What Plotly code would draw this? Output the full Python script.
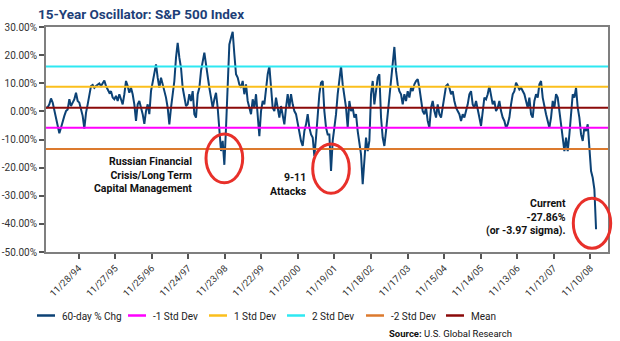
import pandas as pd
import plotly.graph_objects as go

# ---------------- data ----------------
start_date = "1994-01-07"
step_days = 16.6

osc_values = [
    1.3, 1.5, 2.5, 4.6, 3.1, 0.1, -2.2, -5.8, -7.8, -5.8,
    -3.4, -1.6, 0.1, 0.7, 4.3, 1.9, 3.1, 4.3, 6.6, 3.7,
    3.1, 0.7, -1.6, -6.1, -0.5, 2.5, 6.1, 9.0, 9.4, 8.4,
    9.0, 9.4, 9.9, 9.0, 10.2, 11.0, 9.0, 7.8, 6.6, 7.2,
    4.9, 4.3, 5.5, 3.7, 6.1, 4.3, 2.5, 6.1, 10.8, 9.0,
    6.6, 8.4, 6.1, 2.5, -3.4, 2.5, 3.7, 1.3, -1.0, -4.4,
    0.1, 2.5, -1.0, 7.2, 10.8, 13.2, 16.7, 12.0, 8.4, 12.0,
    9.6, 7.2, 4.9, 1.3, -4.6, 1.3, 6.1, 10.8, 19.1, 24.4,
    19.1, 15.5, 8.4, 4.9, 1.9,
    2.5, 6.1, 3.7, 7.2, -1.0, -2.2, 6.1, 8.4, 14.4, 17.9,
    20.9, 16.7, 12.0, 8.4, 4.9, 1.3, 4.3, 6.6, 1.3, -5.8,
    -14.1, -10.5, -19.0, -5.8, 12.0, 23.8, 26.2, 28.3, 20.3, 13.2,
    12.0, 9.6, 8.4, 10.8, 6.1, 9.6, 3.7, 1.3, -1.0, 4.3,
    1.3, 6.1, -3.4, -8.8, 0.1, 3.7, 2.5, 8.4, 13.2, 16.1,
    8.4, 1.3, 0.1, 4.9, 1.3, -2.2, 1.9, -1.0, -4.6, 1.3,
    6.1, 1.3, 6.1, 2.5, 0.1, -1.0, -4.6, -8.2, -10.5, -12.3,
    -7.0, -4.6, -1.0, -5.8, -8.2, -9.3, -15.9, -9.3, -1.0, 6.1,
    10.2, 10.8, 0.1, -5.8, -8.2,
    -8.2, -21.2, -10.5, -5.8, -1.0, 6.1, 10.8, 16.1, 9.6, 6.1,
    1.3, -5.8, 3.7, 0.1, 1.3, -2.2, -1.0, -7.0, -10.5, -15.3,
    -25.9, -17.6, -9.3, -14.1, -10.5, 6.1, 10.8, 2.5, 8.4, 12.0,
    13.2, -2.2, -9.3, -12.3, -7.0, -1.0, 6.1, 12.0, 15.5, 22.9,
    14.4, 9.6, 7.2, 6.1, 2.5, 6.1, 3.7, 7.2, 4.9, 8.4,
    7.2, 9.6, 10.8, 11.4, 8.4, 4.9, 0.1, -1.0, 1.3, -3.4,
    -5.8, 1.3, 3.7, 0.1, -2.2, 2.5, -1.0, -2.2, 1.3, 4.9,
    9.0, 9.6, 8.4, 6.1, 7.2, 3.7, 1.3, 0.1, -1.0, -3.4,
    -1.0, -2.2, 0.1, 2.5, 6.1,
    7.2, 2.5, 1.3, 3.7, 0.1, -2.2, -5.2, 0.1, 4.9, 4.3,
    6.1, 9.0, 6.1, 2.5, 3.7, 0.1, 1.3, 3.7, 0.1, -2.2,
    -3.4, -5.8, -4.6, -2.2, 2.5, 6.1, 7.2, 10.2, 9.0, 7.8,
    8.4, 7.2, 6.1, 3.7, 1.3, 4.9, -1.0, -2.2, 3.7, 6.1,
    4.9, 9.6, 10.8, 4.9, 2.5, -1.0, -3.4, -5.8, -2.2, 3.7,
    1.3, 6.1, 4.9, 0.1, -5.8, -9.3, -14.1, -9.3, -14.1, -8.2,
    -1.0, 6.1, 4.9, 8.4, 1.3, -2.2, -8.2, -10.5, -5.8, -7.0,
    -4.6, -12.3, -21.2, -23.6, -27.7, -41.9,
]

mean_val = 1.3
minus1_sd = -5.8
plus1_sd = 8.8
plus2_sd = 16.0
minus2_sd = -13.4

x_range = ["1994-01-07", "2009-05-05"]
tick_dates = ["1994-11-28", "1995-11-27", "1996-11-25", "1997-11-24", "1998-11-23",
              "1999-11-22", "2000-11-20", "2001-11-19", "2002-11-18", "2003-11-17",
              "2004-11-15", "2005-11-14", "2006-11-13", "2007-11-12", "2008-11-10"]
y_ticks = [30, 20, 10, 0, -10, -20, -30, -40, -50]
y_tick_labels = ["30.00%", "20.00%", "10.00%", "0.00%", "-10.00%", "-20.00%",
                 "-30.00%", "-40.00%", "-50.00%"]

series_names = ["60-day % Chg", "-1 Std Dev", "1 Std Dev", "2 Std Dev", "-2 Std Dev", "Mean"]
series_colors = ["#0c4275", "#ff00ff", "#fbbf1c", "#2ee8f2", "#dc7a2e", "#8b0a0a"]
ref_values = [minus1_sd, plus1_sd, plus2_sd, minus2_sd, mean_val]

# ---------------- figure ----------------
dates = pd.date_range(start=start_date, periods=len(osc_values), freq=pd.Timedelta(days=step_days))

FONT = "Roboto, Liberation Sans, Arial, sans-serif"

W, H = 620, 341
ml, mr, mt, mb = 46, 12, 27, 89


def px_x(p):
    return (p - ml) / (W - ml - mr)


def px_y(p):
    return (H - mb - p) / (H - mt - mb)


fig = go.Figure()
fig.add_trace(go.Scatter(x=dates, y=osc_values, mode="lines", name=series_names[0],
                         line=dict(color=series_colors[0], width=2)))
for name, val, col in zip(series_names[1:], ref_values, series_colors[1:]):
    fig.add_trace(go.Scatter(x=x_range, y=[val, val], mode="lines", name=name,
                             line=dict(color=col, width=2)))

# legend drawn below the plot (line sample + label per series)
legend_line_x = [37, 128, 209, 287, 366, 446]
for lx, name, col in zip(legend_line_x, series_names, series_colors):
    fig.add_shape(type="line", xref="paper", yref="paper",
                  x0=px_x(lx), x1=px_x(lx + 18), y0=px_y(315.5), y1=px_y(315.5),
                  line=dict(color=col, width=2.5))
    fig.add_annotation(xref="paper", yref="paper", x=px_x(lx + 23), y=px_y(316),
                       text=name, showarrow=False, xanchor="left", yanchor="middle",
                       font=dict(family=FONT, size=10, color="#222222"))

# red highlight ellipses
ellipses = [(206, 134, 242.7, 182.7), (312.7, 144, 349.3, 193.3), (573.3, 198.3, 610.7, 248.3)]
for x0, y0, x1, y1 in ellipses:
    fig.add_shape(type="circle", xref="paper", yref="paper",
                  x0=px_x(x0), x1=px_x(x1), y0=px_y(y1), y1=px_y(y0),
                  line=dict(color="#e8302a", width=3), layer="above")

ann_font = dict(family=FONT, size=10.5, color="#111111")
fig.add_annotation(xref="paper", yref="paper", x=px_x(194), y=px_y(175.5),
                   text="<b>Russian Financial<br>Crisis/Long Term<br>Capital Management</b>",
                   showarrow=False, xanchor="right", yanchor="middle", align="right", font=ann_font)
fig.add_annotation(xref="paper", yref="paper", x=px_x(309), y=px_y(184.2),
                   text="<b>9-11<br>Attacks</b>",
                   showarrow=False, xanchor="right", yanchor="middle", align="right", font=ann_font)
fig.add_annotation(xref="paper", yref="paper", x=px_x(568), y=px_y(216.5),
                   text="<b>Current<br>-27.86%<br>(or -3.97 sigma).</b>",
                   showarrow=False, xanchor="right", yanchor="middle", align="right", font=ann_font)
fig.add_annotation(xref="paper", yref="paper", x=px_x(514), y=px_y(333),
                   text="<b>Source:</b> U.S. Global Research",
                   showarrow=False, xanchor="right", yanchor="middle",
                   font=dict(family=FONT, size=9.5, color="#111111"))

fig.update_layout(
    width=W, height=H,
    margin=dict(l=ml, r=mr, t=mt, b=mb),
    paper_bgcolor="white", plot_bgcolor="white",
    title=dict(text="<b>15-Year Oscillator: S&P 500 Index</b>", x=38 / W, xanchor="left",
               y=1 - 14 / H, yanchor="middle",
               font=dict(family=FONT, size=13.5, color="#1d3f78")),
    showlegend=False,
    xaxis=dict(type="date", range=x_range, tickvals=tick_dates, tickformat="%m/%d/%y",
               tickangle=-45, showgrid=False, zeroline=False, automargin=False,
               showline=True, mirror=True, linecolor="#7f7f7f", linewidth=2,
               ticks="outside", ticklen=5, tickwidth=1.5, tickcolor="#555555",
               tickfont=dict(family=FONT, size=9.5, color="#333333")),
    yaxis=dict(range=[-50, 30], tickvals=y_ticks, ticktext=y_tick_labels,
               showgrid=False, zeroline=False, automargin=False,
               showline=True, mirror=True, linecolor="#7f7f7f", linewidth=2,
               ticks="outside", ticklen=5, tickwidth=1.5, tickcolor="#555555",
               tickfont=dict(family=FONT, size=10, color="#333333")),
)

fig.write_html("out.html")
